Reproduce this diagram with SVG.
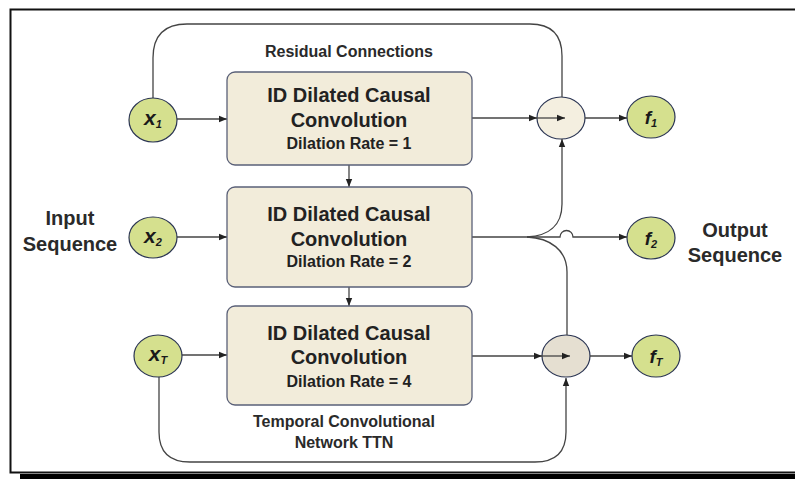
<svg xmlns="http://www.w3.org/2000/svg" width="795" height="479" viewBox="0 0 795 479">
  <style>
    .frame { fill: none; stroke: #111; stroke-width: 2; }
    .box { fill: #f2ecda; stroke: #5a6078; stroke-width: 1.3; }
    .inp { fill: #d5e08e; stroke: #2b3553; stroke-width: 1.2; }
    .sum1 { fill: #f4efe0; stroke: #2b3553; stroke-width: 1.2; }
    .sumT { fill: #e5dfd1; stroke: #2b3553; stroke-width: 1.2; }
    .wire { fill: none; stroke: #444; stroke-width: 1.3; }
    .arr { marker-end: url(#head); }
    text { font-family: "Liberation Sans", Arial, sans-serif; font-weight: bold; fill: #222; text-anchor: middle; }
    .title { font-size: 20px; }
    .rate { font-size: 16px; }
    .note { font-size: 16px; fill: #2a2a2a; }
    .side { font-size: 20px; fill: #2a2a2a; }
    .var { font-size: 21px; font-style: italic; fill: #1a1a1a; }
    .fv { font-size: 19px; font-style: italic; fill: #1a1a1a; }
    .sub { font-size: 11px; }
  </style>
  <defs>
    <marker id="head" markerUnits="userSpaceOnUse" markerWidth="8" markerHeight="8" viewBox="0 0 8 8" refX="8" refY="4" orient="auto">
      <path d="M0,0.8 L8,4 L0,7.2 Z" fill="#222"/>
    </marker>
  </defs>

  <rect width="795" height="479" fill="#fff"/>

  <!-- page frame with drop shadow -->
  <path class="frame" d="M800,9.5 H10.5 V472.5 H800"/>
  <rect x="20" y="474" width="780" height="5" fill="#000"/>

  <!-- side labels -->
  <text class="side" x="70" y="225">Input</text>
  <text class="side" x="70" y="251">Sequence</text>
  <text class="side" x="735" y="237">Output</text>
  <text class="side" x="735" y="262">Sequence</text>
  <text class="note" x="349" y="57">Residual Connections</text>
  <text class="note" x="344" y="427">Temporal Convolutional</text>
  <text class="note" x="344" y="448">Network TTN</text>

  <!-- summing nodes sit under the wires so the inner arrows stay visible -->
  <g id="sum1">
    <ellipse class="sum1" cx="561" cy="118" rx="24" ry="21"/>
  </g>
  <g id="sumT">
    <ellipse class="sumT" cx="566" cy="356" rx="24" ry="21"/>
  </g>

  <g id="connectors">
    <!-- inputs into convolution blocks -->
    <path class="wire arr" d="M177,119 H227"/>
    <path class="wire arr" d="M177,237 H227"/>
    <path class="wire arr" d="M182,355 H227"/>
    <!-- block to block -->
    <path class="wire arr" d="M349,165 V187"/>
    <path class="wire arr" d="M349,287 V306"/>
    <!-- residual connections -->
    <path class="wire" d="M153,98 V58 Q153,24 187,24 H530 Q562,24 562,56 V97"/>
    <path class="wire arr" d="M159,377 V432 Q159,462 190,462 H535 Q566,462 566,432 V378"/>
    <!-- block outputs into summing nodes -->
    <path class="wire arr" d="M472,118 H537"/>
    <path class="wire arr" d="M537,118 H565"/>
    <path class="wire arr" d="M472,356 H542"/>
    <path class="wire arr" d="M542,356 H570"/>
    <!-- middle block output, branches and hop -->
    <path class="wire arr" d="M472,237 H560 a6.5,6.5 0 0 1 13,0 H627"/>
    <path class="wire arr" d="M527,237 C548,236 562,226 562,204 V139"/>
    <path class="wire" d="M527,237 C550,238 567,250 567,272 V335"/>
    <!-- summing nodes to outputs -->
    <path class="wire arr" d="M585,118 H627"/>
    <path class="wire arr" d="M590,356 H632"/>
  </g>

  <g id="conv1">
    <rect class="box" x="227" y="72" width="245" height="93" rx="8"/>
    <text class="title" x="349" y="102">ID Dilated Causal</text>
    <text class="title" x="349" y="127">Convolution</text>
    <text class="rate" x="349" y="149">Dilation Rate = 1</text>
  </g>
  <g id="conv2">
    <rect class="box" x="227" y="187" width="245" height="100" rx="8"/>
    <text class="title" x="349" y="221">ID Dilated Causal</text>
    <text class="title" x="349" y="246">Convolution</text>
    <text class="rate" x="349" y="267">Dilation Rate = 2</text>
  </g>
  <g id="conv3">
    <rect class="box" x="227" y="306" width="245" height="99" rx="8"/>
    <text class="title" x="349" y="340">ID Dilated Causal</text>
    <text class="title" x="349" y="364">Convolution</text>
    <text class="rate" x="349" y="387">Dilation Rate = 4</text>
  </g>

  <g id="x1">
    <ellipse class="inp" cx="153" cy="120" rx="24" ry="22"/>
    <text class="var" x="153" y="125">x<tspan class="sub" dy="3">1</tspan></text>
  </g>
  <g id="x2">
    <ellipse class="inp" cx="153" cy="237.5" rx="24" ry="20.5"/>
    <text class="var" x="153" y="243">x<tspan class="sub" dy="3">2</tspan></text>
  </g>
  <g id="xT">
    <ellipse class="inp" cx="158" cy="356" rx="24" ry="21"/>
    <text class="var" x="158" y="361">x<tspan class="sub" dy="3">T</tspan></text>
  </g>

  <g id="f1">
    <ellipse class="inp" cx="651" cy="117" rx="24" ry="21"/>
    <text class="fv" x="651" y="124">f<tspan class="sub" dy="3">1</tspan></text>
  </g>
  <g id="f2">
    <ellipse class="inp" cx="651" cy="238" rx="24" ry="21"/>
    <text class="fv" x="651" y="245">f<tspan class="sub" dy="3">2</tspan></text>
  </g>
  <g id="fT">
    <ellipse class="inp" cx="656" cy="356" rx="24" ry="21"/>
    <text class="fv" x="656" y="363">f<tspan class="sub" dy="3">T</tspan></text>
  </g>
</svg>
